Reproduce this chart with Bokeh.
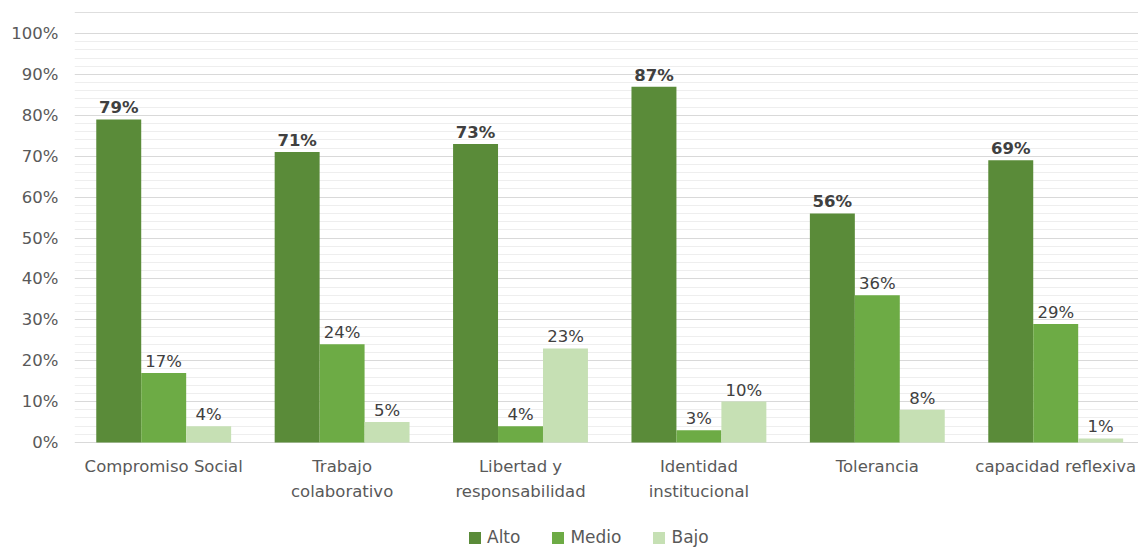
from bokeh.plotting import figure
from bokeh.models import ColumnDataSource, FixedTicker, PrintfTickFormatter, Range1d, Span, Legend, LegendItem
from bokeh.transform import dodge
from bokeh.core.properties import value
from bokeh.embed import file_html
from bokeh.resources import INLINE

categories = ["Compromiso Social", "Trabajo\ncolaborativo", "Libertad y\nresponsabilidad",
              "Identidad\ninstitucional", "Tolerancia", "capacidad reflexiva"]
alto = [79, 71, 73, 87, 56, 69]
medio = [17, 24, 4, 3, 36, 29]
bajo = [4, 5, 23, 10, 8, 1]
series_names = ["Alto", "Medio", "Bajo"]
colors = ["#5A8B39", "#6DAB45", "#C6E0B4"]
y_ticks = list(range(0, 101, 10))

xs = list(range(len(categories)))
line1 = [c.split("\n")[0] for c in categories]
line2 = [c.split("\n")[1] if "\n" in c else "" for c in categories]
src = ColumnDataSource(dict(
    x=xs,
    alto=alto, medio=medio, bajo=bajo,
    alto_l=[f"{v}%" for v in alto],
    medio_l=[f"{v}%" for v in medio],
    bajo_l=[f"{v}%" for v in bajo],
    l1=line1, l2=line2,
))

FONT = "DejaVu Sans"
FS = "16.5px"
p = figure(frame_width=1064, frame_height=538, output_backend="svg", toolbar_location=None,
           x_range=Range1d(-0.5, 5.464), y_range=Range1d(-26.16, 105.38),
           min_border_left=74, min_border_right=0, min_border_top=11, min_border_bottom=0)
p.outline_line_color = None
p.xaxis.visible = False

bw = 0.252
offsets = [-bw, 0, bw]
keys = ["alto", "medio", "bajo"]
renderers = []
for k, off, c in zip(keys, offsets, colors):
    r = p.vbar(x=dodge("x", off), top=k, width=bw, bottom=0, source=src,
               fill_color=c, line_color=None)
    renderers.append(r)
    p.text(x=dodge("x", off), y=k, text=k + "_l", source=src,
           text_align="center", text_baseline="bottom", y_offset=-2,
           text_font=value(FONT), text_font_size=FS,
           text_color="#404040",
           text_font_style="bold" if k == "alto" else "normal")

# category labels (two rows)
p.text(x="x", y=-5.87, text="l1", source=src, text_align="center", text_baseline="middle",
       text_font=value(FONT), text_font_size=FS, text_color="#595959")
p.text(x="x", y=-12.1, text="l2", source=src, text_align="center", text_baseline="middle",
       text_font=value(FONT), text_font_size=FS, text_color="#595959")

p.add_layout(Span(location=105.13, dimension="width", line_color="#DEDEDE", line_width=1))

# y axis
p.yaxis.ticker = FixedTicker(ticks=y_ticks,
                             minor_ticks=[v for v in range(2, 100, 2) if v % 10])
p.yaxis.formatter = PrintfTickFormatter(format="%d%%")
p.yaxis.axis_line_color = None
p.yaxis.major_tick_line_color = None
p.yaxis.minor_tick_line_color = None
p.yaxis.major_label_text_font = FONT
p.yaxis.major_label_text_font_size = FS
p.yaxis.major_label_text_color = "#595959"
p.yaxis.major_label_standoff = 10
p.ygrid.grid_line_color = "#D9D9D9"
p.ygrid.minor_grid_line_color = "#EEEEEE"
p.xgrid.grid_line_color = None

legend = Legend(items=[LegendItem(label=n, renderers=[r]) for n, r in zip(series_names, renderers)],
                orientation="horizontal", location=(393, 2),
                label_text_font=FONT, label_text_font_size="17px", label_text_color="#595959",
                glyph_width=15, glyph_height=15, label_height=15, spacing=30, label_standoff=5,
                padding=0, margin=0,
                border_line_color=None, background_fill_alpha=0)
p.add_layout(legend)

open("out.html", "w").write(file_html(p, INLINE))
